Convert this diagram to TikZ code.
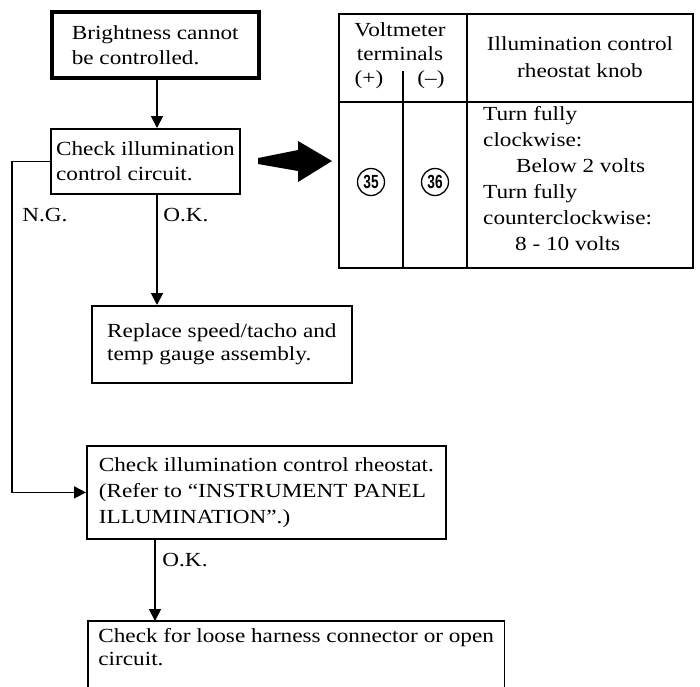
\documentclass[tikz,border=0pt]{standalone}
\usepackage{fontspec}
\setmainfont{Liberation Serif}[FakeStretch=1.16]
\newfontfamily\circfont{Liberation Sans}[FakeStretch=0.72]
\usetikzlibrary{arrows.meta,calc}
\begin{document}
\begin{tikzpicture}[x=1pt,y=-1pt,
  every node/.style={font=\fontsize{20}{25}\selectfont},
  box/.style={draw,line width=1.8pt,align=left,inner sep=0pt,anchor=north west},
  arr/.style={line width=1.8pt,-{Triangle[length=12pt,width=12pt]}},
  ln/.style={line width=1.8pt},
  lbl/.style={inner sep=0pt},
  circnum/.style={circle,draw,line width=1.3pt,minimum size=27pt,inner sep=0pt,font=\circfont\bfseries\fontsize{19}{19}\selectfont}]
\useasboundingbox (0,0) rectangle (700,686);

% flow boxes
\node[box,line width=3.5pt,minimum width=207pt,minimum height=66pt] (b1) at (50,10) {Brightness cannot\\be controlled.};
\node[box,minimum width=189pt,minimum height=65pt] (b2) at (50,128) {Check illumination\\control circuit.};
\node[box,minimum width=260pt,minimum height=77pt,font=\fontsize{20}{23}\selectfont] (b5) at (91,305) {Replace speed/tacho and\\temp gauge assembly.};
\node[box,minimum width=359pt,minimum height=93pt,font=\fontsize{20}{26}\selectfont] (b3) at (86,445) {Check illumination control rheostat.\\(Refer to “INSTRUMENT PANEL\\ILLUMINATION”.)};
\node[anchor=north west,align=left,inner xsep=0pt,inner ysep=7pt,minimum width=416pt,font=\fontsize{20}{23}\selectfont] (b4) at (88,621) {Check for loose harness connector or open\\circuit.};
\coordinate (bot) at (0,687);
\draw[ln] (b4.south west |- bot) -- (b4.north west) -- (b4.north east) -- (b4.north east |- bot);

% connectors
\coordinate (xa) at (157,0);
\coordinate (xl) at (12,0);
\coordinate (xb) at (155,0);
\draw[arr] (b1.south -| xa) -- (b2.north -| xa);
\draw[arr] (b2.south -| xa) -- (b5.north -| xa);
\draw[arr] (b2.west) -- (b2.west -| xl) |- (b3.west);
\draw[arr] (b3.south -| xb) -- (b4.north -| xb);

\node[lbl] (ng) at (45,215) {N.G.};
\node[lbl] (ok1) at (186,215) {O.K.};
\node[lbl] (ok2) at (185,560) {O.K.};

% big arrow
\fill (258,158) -- (298,150) -- (298,141) -- (332,161) -- (298,182) -- (298,171) -- (258,164) -- cycle;

% table
\node[draw,line width=2pt,minimum width=354pt,minimum height=254pt,anchor=north west,inner sep=0pt] (tbl) at (338,13) {};
\coordinate (hy) at (0,102);
\coordinate (ci) at (403,71);
\coordinate (cj) at (467,0);
\draw[line width=2pt] (tbl.west |- hy) -- (tbl.east |- hy);
\draw[ln] (ci) -- (ci |- tbl.south);
\draw[line width=2pt] (cj |- tbl.north) -- (cj |- tbl.south);

\node[lbl] (vm) at (400,30) {Voltmeter};
\node[lbl] (tm) at (400,54) {terminals};
\node[lbl] (pl) at (369,80) {(+)};
\node[lbl] (mi) at (431,80) {(–)};
\node[lbl] (ic) at (580,44) {Illumination control};
\node[lbl] (rk) at (580,71) {rheostat knob};
\node[circnum] (c35) at (371,182) {35};
\node[circnum] (c36) at (435,182) {36};
\node[anchor=north west,align=left,inner sep=0pt,font=\fontsize{20}{26}\selectfont] (rc) at (483,106)
  {Turn fully\\clockwise:\\\hspace*{33pt}Below 2 volts\\Turn fully\\counterclockwise:\\\hspace*{32pt}8 - 10 volts};
\end{tikzpicture}
\end{document}
